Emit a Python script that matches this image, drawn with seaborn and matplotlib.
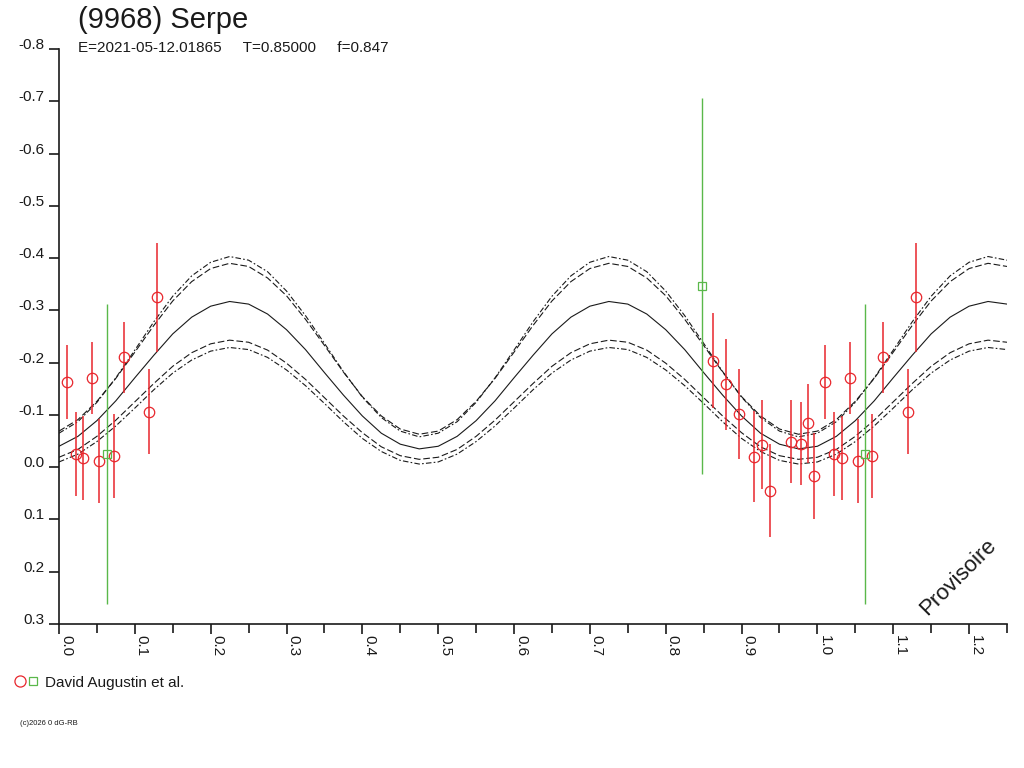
"""
Light curve of (9968) Serpe, folded on the rotation period.
Data points are read off the reference plot; the fitted curve and
its envelopes are sampled every 0.025 in phase.
"""

import matplotlib

matplotlib.use("Agg")

import matplotlib.pyplot as plt
import pandas as pd
import seaborn as sns
from matplotlib.legend_handler import HandlerTuple
from matplotlib.lines import Line2D
from matplotlib.ticker import FixedLocator, MultipleLocator

sns.set_theme(style="white")
plt.rcParams["font.family"] = ["Liberation Sans", "DejaVu Sans"]
plt.rcParams["axes.unicode_minus"] = False

# ---------------------------------------------------------------------------
# Data
# ---------------------------------------------------------------------------
TITLE = "(9968) Serpe"
SUBTITLE = "E=2021-05-12.01865     T=0.85000     f=0.847"
OBSERVER = "David Augustin et al."

# red circles (phase 0..1), reduced magnitude and 1-sigma error
red_phase = [0.0106, 0.022, 0.032, 0.043, 0.053, 0.0725, 0.086, 0.119, 0.1296,
             0.863, 0.879, 0.896, 0.917, 0.927, 0.938, 0.965, 0.979, 0.987, 0.9956]
red_mag = [-0.163, -0.025, -0.018, -0.171, -0.012, -0.021, -0.210, -0.106, -0.325,
           -0.204, -0.159, -0.101, -0.020, -0.043, 0.045, -0.049, -0.045, -0.084, 0.017]
red_err = [0.071, 0.080, 0.080, 0.069, 0.081, 0.080, 0.068, 0.081, 0.104,
           0.090, 0.087, 0.086, 0.087, 0.085, 0.089, 0.080, 0.079, 0.076, 0.082]

# green squares
green_phase = [0.063, 0.848]
green_mag = [-0.026, -0.347]
green_err = [0.287, 0.360]

# fitted curve and envelopes
curve_phase = [0.000, 0.025, 0.050, 0.075, 0.100, 0.125, 0.150, 0.175, 0.200, 0.225,
               0.250, 0.275, 0.300, 0.325, 0.350, 0.375, 0.400, 0.425, 0.450, 0.475,
               0.500, 0.525, 0.550, 0.575, 0.600, 0.625, 0.650, 0.675, 0.700, 0.725,
               0.750, 0.775, 0.800, 0.825, 0.850, 0.875, 0.900, 0.925, 0.950, 0.975,
               1.000, 1.025, 1.050, 1.075, 1.100, 1.125, 1.150, 1.175, 1.200, 1.225,
               1.250]
fit_mag = [-0.040, -0.059, -0.089, -0.127, -0.171, -0.214, -0.255, -0.287, -0.308, -0.317,
           -0.312, -0.293, -0.263, -0.225, -0.181, -0.138, -0.098, -0.065, -0.044, -0.035,
           -0.040, -0.059, -0.089, -0.127, -0.171, -0.214, -0.255, -0.287, -0.308, -0.317,
           -0.312, -0.293, -0.263, -0.225, -0.181, -0.138, -0.098, -0.065, -0.044, -0.035,
           -0.040, -0.059, -0.089, -0.127, -0.171, -0.214, -0.255, -0.287, -0.308, -0.317,
           -0.312]
upper_dashdot = [-0.065, -0.087, -0.124, -0.171, -0.224, -0.278, -0.327, -0.366, -0.392, -0.403,
                 -0.396, -0.374, -0.337, -0.290, -0.237, -0.183, -0.134, -0.095, -0.069, -0.058,
                 -0.065, -0.087, -0.124, -0.171, -0.224, -0.278, -0.327, -0.366, -0.392, -0.403,
                 -0.396, -0.374, -0.337, -0.290, -0.237, -0.183, -0.134, -0.095, -0.069, -0.058,
                 -0.065, -0.087, -0.124, -0.171, -0.224, -0.278, -0.327, -0.366, -0.392, -0.403,
                 -0.396]
upper_dashed = [-0.069, -0.091, -0.126, -0.170, -0.220, -0.271, -0.318, -0.355, -0.380, -0.390,
                -0.384, -0.362, -0.328, -0.283, -0.233, -0.182, -0.135, -0.098, -0.073, -0.063,
                -0.069, -0.091, -0.126, -0.170, -0.220, -0.271, -0.318, -0.355, -0.380, -0.390,
                -0.384, -0.362, -0.328, -0.283, -0.233, -0.182, -0.135, -0.098, -0.073, -0.063,
                -0.069, -0.091, -0.126, -0.170, -0.220, -0.271, -0.318, -0.355, -0.380, -0.390,
                -0.384]
lower_dashed = [-0.019, -0.034, -0.059, -0.090, -0.125, -0.160, -0.193, -0.219, -0.236, -0.243,
                -0.239, -0.224, -0.199, -0.168, -0.133, -0.098, -0.066, -0.039, -0.022, -0.015,
                -0.019, -0.034, -0.059, -0.090, -0.125, -0.160, -0.193, -0.219, -0.236, -0.243,
                -0.239, -0.224, -0.199, -0.168, -0.133, -0.098, -0.066, -0.039, -0.022, -0.015,
                -0.019, -0.034, -0.059, -0.090, -0.125, -0.160, -0.193, -0.219, -0.236, -0.243,
                -0.239]
lower_dashdot = [-0.010, -0.025, -0.049, -0.079, -0.113, -0.148, -0.180, -0.205, -0.222, -0.229,
                 -0.225, -0.210, -0.186, -0.156, -0.122, -0.087, -0.055, -0.030, -0.013, -0.006,
                 -0.010, -0.025, -0.049, -0.079, -0.113, -0.148, -0.180, -0.205, -0.222, -0.229,
                 -0.225, -0.210, -0.186, -0.156, -0.122, -0.087, -0.055, -0.030, -0.013, -0.006,
                 -0.010, -0.025, -0.049, -0.079, -0.113, -0.148, -0.180, -0.205, -0.222, -0.229,
                 -0.225]

x_ticks = [0.0, 0.1, 0.2, 0.3, 0.4, 0.5, 0.6, 0.7, 0.8, 0.9, 1.0, 1.1, 1.2]
x_labels = ["0.0", "0.1", "0.2", "0.3", "0.4", "0.5", "0.6",
            "0.7", "0.8", "0.9", "1.0", "1.1", "1.2"]
y_ticks = [-0.8, -0.7, -0.6, -0.5, -0.4, -0.3, -0.2, -0.1, 0.0, 0.1, 0.2, 0.3]
y_labels = ["-0.8", "-0.7", "-0.6", "-0.5", "-0.4", "-0.3", "-0.2",
            "-0.1", "0.0", "0.1", "0.2", "0.3"]

RED = "#e8262c"
GREEN = "#5ab84a"
INK = "#1a1a1a"

# ---------------------------------------------------------------------------
# Figure
# ---------------------------------------------------------------------------
fig = plt.figure(figsize=(10.24, 7.68), dpi=100, facecolor="white")
ax = fig.add_axes([0.0576, 0.1875, 0.9258, 0.7487])

curves = pd.concat(
    [
        pd.DataFrame({"phase": curve_phase, "mag": fit_mag, "curve": "fit"}),
        pd.DataFrame({"phase": curve_phase, "mag": upper_dashed, "curve": "up_dash"}),
        pd.DataFrame({"phase": curve_phase, "mag": upper_dashdot, "curve": "up_dashdot"}),
        pd.DataFrame({"phase": curve_phase, "mag": lower_dashed, "curve": "lo_dash"}),
        pd.DataFrame({"phase": curve_phase, "mag": lower_dashdot, "curve": "lo_dashdot"}),
    ],
    ignore_index=True,
)
sns.lineplot(
    data=curves,
    x="phase",
    y="mag",
    style="curve",
    dashes={
        "fit": "",
        "up_dash": (6, 2.5),
        "lo_dash": (6, 2.5),
        "up_dashdot": (5, 2, 1.5, 2),
        "lo_dashdot": (5, 2, 1.5, 2),
    },
    color=INK,
    linewidth=0.8,
    estimator=None,
    sort=False,
    legend=False,
    ax=ax,
)

# observations, drawn at phase and again one cycle later
for shift in (0.0, 1.0):
    ax.errorbar(
        [p + shift for p in red_phase], red_mag, yerr=red_err,
        fmt="o", ms=7.5, mfc="none", mec=RED, mew=0.9,
        ecolor=RED, elinewidth=1.1, capsize=0, zorder=3,
    )
    ax.errorbar(
        [p + shift for p in green_phase], green_mag, yerr=green_err,
        fmt="s", ms=5.5, mfc="none", mec=GREEN, mew=0.9,
        ecolor=GREEN, elinewidth=1.0, capsize=0, zorder=3,
    )

ax.set_xlim(0, 1.25)
ax.set_ylim(0.3, -0.8)
ax.set_xlabel("")
ax.set_ylabel("")

for side in ("top", "right"):
    ax.spines[side].set_visible(False)
for side in ("left", "bottom"):
    ax.spines[side].set_color(INK)
    ax.spines[side].set_linewidth(1.2)

ax.yaxis.set_major_locator(FixedLocator(y_ticks))
ax.set_yticklabels(y_labels)
ax.set_xticks(x_ticks, labels=x_labels, rotation=-90, ha="left", va="top")
ax.xaxis.set_minor_locator(MultipleLocator(0.05))

ax.tick_params(axis="x", which="major", bottom=True, direction="out", length=7.2,
               width=1.2, color=INK, labelcolor=INK, labelsize=11, pad=1)
ax.tick_params(axis="y", which="major", left=True, direction="out", length=7.2,
               width=1.2, color=INK, labelcolor=INK, labelsize=11, pad=3)
ax.tick_params(axis="x", which="minor", bottom=True, direction="out",
               length=6.5, width=1.2, color=INK)
for lab in ax.get_yticklabels():
    lab.set_verticalalignment("baseline")

# header
fig.text(0.0762, 0.974, TITLE, fontsize=21, color=INK, va="center")
fig.text(0.0762, 0.9375, SUBTITLE, fontsize=11, color=INK, va="center")

# watermark
fig.text(0.9355, 0.2487, "Provisoire", rotation=45, ha="center", va="center",
         fontsize=16, color=INK)

# observer legend
circle = Line2D([], [], marker="o", ls="none", ms=8, mfc="none", mec=RED, mew=0.9)
square = Line2D([], [], marker="s", ls="none", ms=6, mfc="none", mec=GREEN, mew=0.9)
fig.legend(
    handles=[(circle, square)],
    labels=[OBSERVER],
    handler_map={tuple: HandlerTuple(ndivide=None, pad=0.1)},
    loc="center left",
    bbox_to_anchor=(0.014, 0.111),
    frameon=False,
    borderpad=0,
    borderaxespad=0,
    handlelength=1.6,
    handletextpad=0.4,
    prop={"size": 11},
    labelcolor=INK,
)

fig.text(0.0195, 0.0573, "(c)2026 0 dG-RB", fontsize=5.5, color=INK, va="center")

fig.savefig("out.png", dpi=100, facecolor="white")
plt.close(fig)
